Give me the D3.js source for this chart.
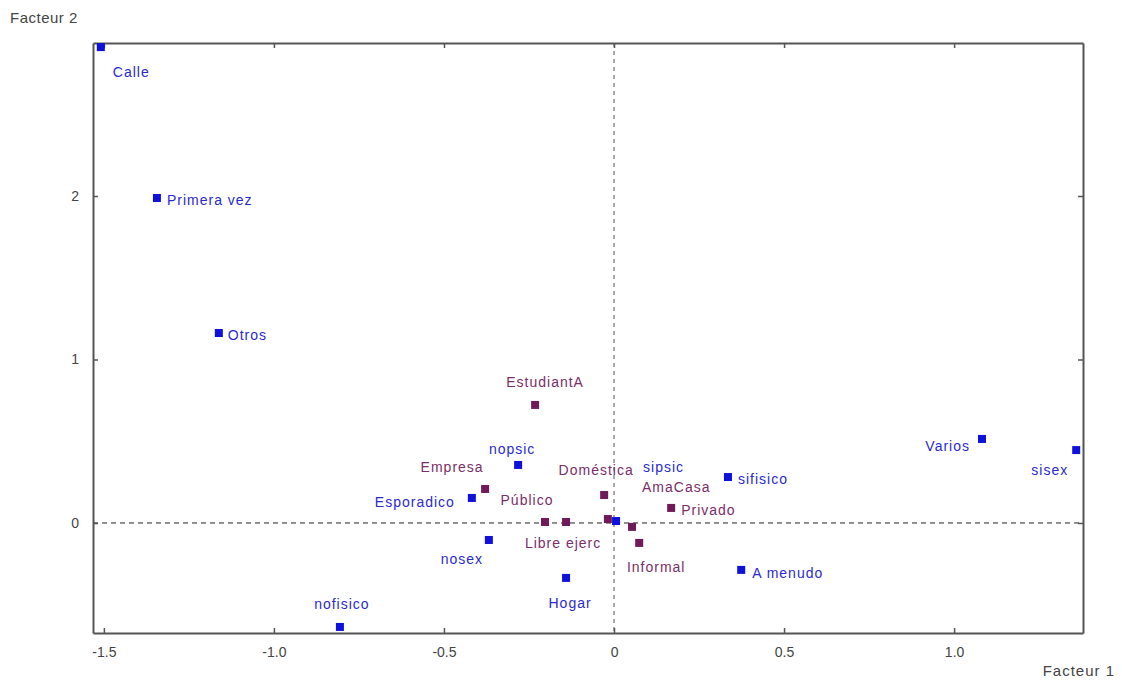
<!DOCTYPE html>
<html>
<head>
<meta charset="utf-8">
<script src="https://cdn.jsdelivr.net/npm/d3@7"></script>
<style>
  body { margin: 0; background: #fff; }
  svg text { font-family: "Liberation Sans", Arial, sans-serif; }
</style>
</head>
<body>
<div id="chart"></div>
<script>
"use strict"

// factor scores
const xTicks = [-1.5, -1.0, -0.5, 0, 0.5, 1.0]
const xTickLabels = ["-1.5", "-1.0", "-0.5", "0", "0.5", "1.0"]
const yTicks = [0, 1, 2]
const yTickLabels = ["0", "1", "2"]

// blue categories (first variable group)
const blueNames = ["Calle", "Primera vez", "Otros", "Varios", "sisex", "sifisico", "A menudo",
  "Hogar", "nofisico", "nopsic", "Esporadico", "nosex", "sipsic"]
const blueF1 = [-1.509, -1.344, -1.162, 1.082, 1.359, 0.335, 0.374, -0.141, -0.806, -0.282, -0.418, -0.368, 0.006]
const blueF2 = [2.911, 1.988, 1.162, 0.514, 0.446, 0.281, -0.287, -0.336, -0.636, 0.355, 0.153, -0.104, 0.012]

// purple categories (second variable group)
const purpleNames = ["EstudiantA", "Empresa", "Público", "Libre ejerc", "Doméstica", "", "AmaCasa", "Informal", "Privado"]
const purpleF1 = [-0.232, -0.379, -0.203, -0.141, -0.029, -0.018, 0.053, 0.074, 0.168]
const purpleF2 = [0.722, 0.208, 0.006, 0.006, 0.171, 0.024, -0.024, -0.122, 0.092]

// label placement relative to the marker: [dx, dy, anchor]
const bluePlace = [[12, 30, "start"], [10, 7, "start"], [9, 7, "start"], [-12, 12, "end"], [-8, 25, "end"],
  [10, 7, "start"], [11, 8, "start"], [4, 30, "middle"], [2, -18, "middle"], [-6, -11, "middle"],
  [-17, 9, "end"], [-27, 24, "middle"], [27, -49, "start"]]
const purplePlace = [[10, -18, "middle"], [-33, -17, "middle"], [-18, -17, "middle"], [-3, 26, "middle"],
  [-8, -20, "middle"], [0, 0, "middle"], [10, -35, "start"], [17, 29, "middle"], [10, 7, "start"]]

const W = 1122, H = 685
const plot = {left: 93, right: 1083, top: 43, bottom: 633}

const svg = d3.select("#chart").append("svg")
  .attr("width", W)
  .attr("height", H)

const x = d3.scaleLinear().domain([-1.532, 1.379]).range([plot.left, plot.right])
const y = d3.scaleLinear().domain([-0.673, 2.936]).range([plot.bottom, plot.top])

// dashed zero lines
svg.append("line")
  .attr("x1", x(0)).attr("x2", x(0))
  .attr("y1", plot.top).attr("y2", plot.bottom)
  .attr("stroke", "#555").attr("stroke-dasharray", "4,4")
svg.append("line")
  .attr("x1", plot.left).attr("x2", plot.right)
  .attr("y1", y(0)).attr("y2", y(0))
  .attr("stroke", "#222").attr("stroke-dasharray", "5,4")

// axes, ticks pointing inwards
function styleAxis(g) {
  g.select(".domain").attr("stroke", "#555").attr("stroke-width", 2)
  g.selectAll(".tick line").attr("stroke", "#555").attr("stroke-width", 1.5)
  g.selectAll(".tick text").attr("fill", "#444").style("font-size", "14px")
}
svg.append("g")
  .attr("transform", "translate(0," + plot.bottom + ")")
  .call(d3.axisBottom(x).tickValues(xTicks).tickSizeInner(-5).tickSizeOuter(0).tickPadding(14)
    .tickFormat((d, i) => xTickLabels[i]))
  .call(styleAxis)
svg.append("g")
  .attr("transform", "translate(0," + plot.top + ")")
  .call(d3.axisTop(x).tickValues(xTicks).tickSizeInner(-5).tickSizeOuter(0).tickFormat(""))
  .call(styleAxis)
svg.append("g")
  .attr("transform", "translate(" + plot.left + ",0)")
  .call(d3.axisLeft(y).tickValues(yTicks).tickSizeInner(-5).tickSizeOuter(0).tickPadding(14)
    .tickFormat((d, i) => yTickLabels[i]))
  .call(styleAxis)
svg.append("g")
  .attr("transform", "translate(" + plot.right + ",0)")
  .call(d3.axisRight(y).tickValues(yTicks).tickSizeInner(-5).tickSizeOuter(0).tickFormat(""))
  .call(styleAxis)

// axis titles
svg.append("text")
  .attr("x", 1115).attr("y", 676)
  .attr("text-anchor", "end")
  .attr("fill", "#444")
  .style("font-size", "15px")
  .style("letter-spacing", "1px")
  .text("Facteur 1")
svg.append("text")
  .attr("x", 10).attr("y", 23)
  .attr("fill", "#444")
  .style("font-size", "15px")
  .style("letter-spacing", "0.5px")
  .text("Facteur 2")

function drawGroup(names, f1, f2, place, markColor, textColor) {
  const pts = names.map((n, i) => ({name: n, f1: f1[i], f2: f2[i], p: place[i]}))
  const g = svg.append("g")
  g.selectAll("rect")
    .data(pts)
    .enter()
    .append("rect")
      .attr("x", d => x(d.f1) - 4)
      .attr("y", d => y(d.f2) - 4)
      .attr("width", 8)
      .attr("height", 8)
      .attr("fill", markColor)
  g.selectAll("text")
    .data(pts)
    .enter()
    .append("text")
      .attr("x", d => x(d.f1) + d.p[0])
      .attr("y", d => y(d.f2) + d.p[1])
      .attr("text-anchor", d => d.p[2])
      .attr("fill", textColor)
      .style("font-size", "14px")
      .style("letter-spacing", "1px")
      .text(d => d.name)
}

drawGroup(purpleNames, purpleF1, purpleF2, purplePlace, "#701a5a", "#7a2e68")
drawGroup(blueNames, blueF1, blueF2, bluePlace, "#1010dd", "#2a2ad0")
</script>
</body>
</html>
